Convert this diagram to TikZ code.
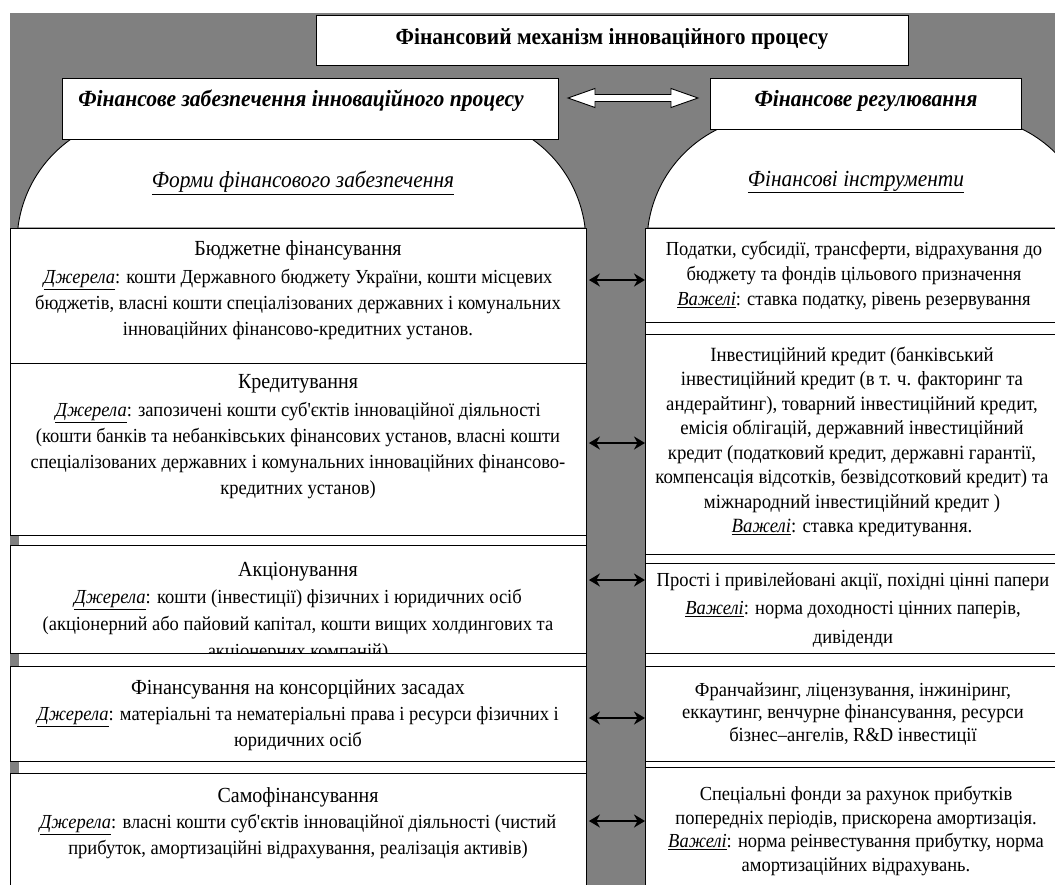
\documentclass[tikz,border=0pt]{standalone}
\usepackage{fontspec}
\setmainfont{Liberation Serif}[FakeStretch=0.93, Ligatures=TeXOff]
\usetikzlibrary{arrows.meta}
\definecolor{bggray}{RGB}{128,128,128}
\newcommand{\src}{\underline{\textit{Джерела}}:}
\newcommand{\lev}{\underline{\textit{Важелі}}:}
\begin{document}
\begin{tikzpicture}[x=1pt,y=-1pt,
  frame/.style={draw=black, line width=0.9pt, fill=white, inner sep=0pt, anchor=north west},
  hdr/.style={font=\bfseries\itshape\fontsize{23.2}{26}\selectfont, inner sep=0pt},
  ltxt/.style={align=center, inner sep=0pt, font=\fontsize{19.9}{26}\selectfont},
  rtxt/.style={align=center, inner sep=0pt},
  ttl/.style={font=\fontsize{21.5}{26}\selectfont},
  arr/.style={{Stealth[length=11pt,width=13pt]}-{Stealth[length=11pt,width=13pt]}, line width=1.8pt},
  dome/.style={draw=black, line width=0.9pt, fill=white},
  dlab/.style={inner sep=0pt, font=\itshape\fontsize{23}{26}\selectfont}
]
\useasboundingbox (0,0) rectangle (1055,884);
\clip (0,0) rectangle (1055,884);
\fill[white] (0,0) rectangle (1055,884);
\fill[bggray] (10,13) rectangle (1060,890);

% title
\node[frame, minimum width=592pt, minimum height=50pt] (title) at (316,15) {};
\node[font=\bfseries\fontsize{23.1}{26}\selectfont, inner sep=0pt] (titlet) at (612,39) {Фінансовий механізм інноваційного процесу};

% domes
\draw[dome] (18,228) -- plot[domain=173.2:90, samples=40] ({144+127*cos(\x)},{243-127*sin(\x)})
  -- plot[domain=90:6.8, samples=40] ({459+127*cos(\x)},{243-127*sin(\x)}) -- cycle;
\draw[dome] (648,228) -- plot[domain=173.2:90, samples=40] ({774+127*cos(\x)},{243-127*sin(\x)})
  -- plot[domain=90:6.8, samples=40] ({966+127*cos(\x)},{243-127*sin(\x)}) -- cycle;

% headers
\node[frame, minimum width=496pt, minimum height=61pt] (lh) at (62,78) {};
\node[hdr] (lht) at (301,101) {Фінансове забезпечення інноваційного процесу};
\node[frame, minimum width=311pt, minimum height=51pt] (rh) at (710,78) {};
\node[hdr] (rht) at (866,101) {Фінансове регулювання};

% hollow double arrow between headers
\draw[line width=0.9pt, fill=white] (568,98) -- (595,88.5) -- (595,94.5) -- (671,94.5) -- (671,88.5)
  -- (698,98) -- (671,107.5) -- (671,101.5) -- (595,101.5) -- (595,107.5) -- cycle;

% dome labels
\node[dlab] (lform) at (303,183) {\underline{Форми фінансового забезпечення}};
\node[dlab] (rinst) at (856,182) {\underline{Фінансові інструменти}};

% column backdrops
\fill[white] (19,228) rectangle (586,890);
\draw[line width=0.9pt] (586,228) -- (586,890);
\fill[white] (645,228) rectangle (1070,890);
\draw[line width=0.9pt] (645,228) -- (645,890);

% left boxes
\node[frame, minimum width=576pt, minimum height=135pt] (b1) at (10,228) {};
\node[frame, minimum width=576pt, minimum height=172pt] (b2) at (10,363) {};
\node[frame, minimum width=576pt, minimum height=108pt] (b3) at (10,545) {};
\node[frame, minimum width=576pt, minimum height=95pt] (b4) at (10,666) {};
\node[frame, minimum width=576pt, minimum height=130pt] (b5) at (10,773) {};

% right boxes
\node[frame, minimum width=430pt, minimum height=94pt] (r1) at (645,228) {};
\node[frame, minimum width=430pt, minimum height=220pt] (r2) at (645,334) {};
\node[frame, minimum width=430pt, minimum height=90pt] (r3) at (645,563) {};
\node[frame, minimum width=430pt, minimum height=95pt] (r4) at (645,666) {};
\node[frame, minimum width=430pt, minimum height=140pt] (r5) at (645,767) {};

% left texts
\node[ltxt] (b1t) at (298,290) {{\fontsize{21.5}{26}\selectfont Бюджетне фінансування}\\[2pt]
\src{} кошти Державного бюджету України, кошти місцевих\\
бюджетів, власні кошти спеціалізованих державних і комунальних\\
інноваційних фінансово-кредитних установ.};
\node[ltxt] (b2t) at (298,437) {{\fontsize{21.5}{26}\selectfont Кредитування}\\[2pt]
\src{} запозичені кошти суб'єктів інноваційної діяльності\\
(кошти банків та небанківських фінансових установ, власні кошти\\
спеціалізованих державних і комунальних інноваційних фінансово-\\
кредитних установ)};
\begin{scope}
\clip (10,545) rectangle (586,653);
\node[ltxt, font=\fontsize{19.9}{27}\selectfont] (b3t) at (298,612) {{\fontsize{21.5}{27}\selectfont Акціонування}\\
\src{} кошти (інвестиції) фізичних і юридичних осіб\\
(акціонерний або пайовий капітал, кошти вищих холдингових та\\
акціонерних компаній)};
\end{scope}
\node[ltxt] (b4t) at (298,715) {{\fontsize{21.5}{26}\selectfont Фінансування на консорційних засадах}\\
\src{} матеріальні та нематеріальні права і ресурси фізичних і\\
юридичних осіб};
\node[ltxt] (b5t) at (298,823) {{\fontsize{21.5}{26}\selectfont Самофінансування}\\
\src{} власні кошти суб'єктів інноваційної діяльності (чистий\\
прибуток, амортизаційні відрахування, реалізація активів)};

% right texts
\node[rtxt, font=\fontsize{19.9}{25}\selectfont] (r1t) at (854,276) {Податки, субсидії, трансферти, відрахування до\\
бюджету та фондів цільового призначення\\
\lev{} ставка податку, рівень резервування};
\node[rtxt, font=\fontsize{20.2}{24.5}\selectfont] (r2t) at (852,442) {Інвестиційний кредит (банківський\\
інвестиційний кредит (в т. ч. факторинг та\\
андерайтинг), товарний інвестиційний кредит,\\
емісія облігацій, державний інвестиційний\\
кредит (податковий кредит, державні гарантії,\\
компенсація відсотків, безвідсотковий кредит) та\\
міжнародний інвестиційний кредит )\\
\lev{} ставка кредитування.};
\node[rtxt, font=\fontsize{19.9}{28.5}\selectfont] (r3t) at (853,610) {Прості і привілейовані акції, похідні цінні папери\\
\lev{} норма доходності цінних паперів,\\
дивіденди};
\node[rtxt, font=\fontsize{19.9}{22.5}\selectfont] (r4t) at (853,714) {Франчайзинг, ліцензування, інжиніринг,\\
еккаутинг, венчурне фінансування, ресурси\\
бізнес–ангелів, R\&D інвестиції};
\node[rtxt, font=\fontsize{19.9}{23.5}\selectfont] (r5t) at (856,831) {Спеціальні фонди за рахунок прибутків\\
попередніх періодів, прискорена амортизація.\\
\lev{} норма реінвестування прибутку, норма\\
амортизаційних відрахувань.};

% arrows
\coordinate (a1) at (0,280);
\coordinate (a2) at (0,443);
\coordinate (a3) at (0,580);
\coordinate (a4) at (0,718);
\coordinate (a5) at (0,821);
\draw[arr, shorten <=2pt] (b1.east |- a1) -- (r1.west |- a1);
\draw[arr, shorten <=2pt] (b2.east |- a2) -- (r2.west |- a2);
\draw[arr, shorten <=2pt] (b3.east |- a3) -- (r3.west |- a3);
\draw[arr, shorten <=2pt] (b4.east |- a4) -- (r4.west |- a4);
\draw[arr, shorten <=2pt] (b5.east |- a5) -- (r5.west |- a5);
\end{tikzpicture}
\end{document}
